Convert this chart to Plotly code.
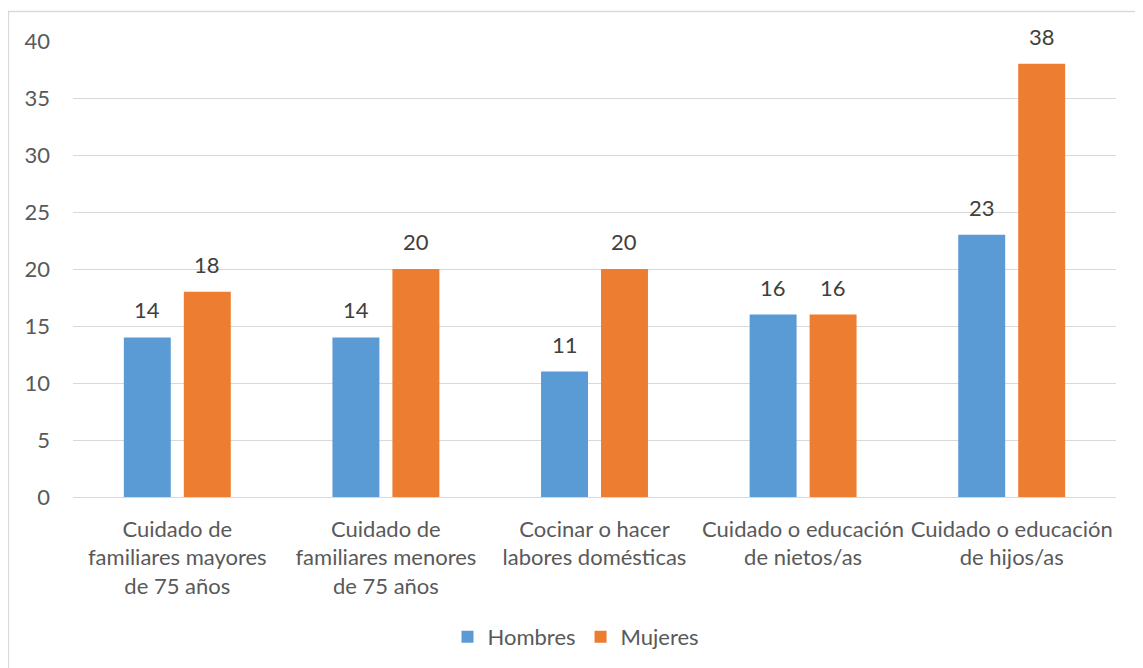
import plotly.graph_objects as go

categories = [
    "Cuidado de<br>familiares mayores<br>de 75 años",
    "Cuidado de<br>familiares menores<br>de 75 años",
    "Cocinar o hacer<br>labores domésticas",
    "Cuidado o educación<br>de nietos/as",
    "Cuidado o educación<br>de hijos/as",
]
hombres = [14, 14, 11, 16, 23]
mujeres = [18, 20, 20, 16, 38]
y_ticks = [0, 5, 10, 15, 20, 25, 30, 35, 40]

OFF = 8  # page body margin
W, H = 1143 - OFF, 668 - OFF
ML, MT = 73 - OFF, 41 - OFF
PW, PH = 1043, 456
MR, MB = W - ML - PW, H - MT - PH

FONT = "Lato"
BLUE = "#5B9BD5"
ORANGE = "#ED7D31"
TXT = "#595959"
GRID = "#D9D9D9"

fig = go.Figure()
fig.add_trace(go.Bar(name="Hombres", x=categories, y=hombres, marker_color=BLUE,
                     marker_line_width=0))
fig.add_trace(go.Bar(name="Mujeres", x=categories, y=mujeres, marker_color=ORANGE,
                     marker_line_width=0))

cat_px = PW / len(categories)
bargap = 0.425
bargroupgap = 0.217
slot = (1 - bargap) * cat_px / 2
annotations = []
for series, sign in ((hombres, -1), (mujeres, 1)):
    for c, v in zip(categories, series):
        annotations.append(dict(
            x=c, y=v, xref="x", yref="y", text=str(v), showarrow=False,
            xshift=sign * slot / 2, yshift=12, yanchor="bottom",
            font=dict(family=FONT, size=22, color="#404040")))

def px_x(p):
    return (p - OFF - ML) / PW

def px_y(p):
    return (MT + PH - (p - OFF)) / PH

fig.update_layout(
    width=W, height=H,
    margin=dict(l=ML, r=MR, t=MT, b=MB, autoexpand=False),
    paper_bgcolor="white", plot_bgcolor="white",
    barmode="group", bargap=bargap, bargroupgap=bargroupgap,
    font=dict(family=FONT, size=22, color=TXT),
    showlegend=True,
    legend=dict(orientation="h", x=px_x(576), xanchor="center",
                y=px_y(637), yanchor="middle",
                font=dict(family=FONT, size=22, color=TXT),
                itemwidth=30, traceorder="normal"),
    annotations=annotations,
    shapes=[dict(type="rect", xref="paper", yref="paper",
                 x0=px_x(8.5), x1=px_x(1160), y0=px_y(690), y1=px_y(11.5),
                 line=dict(color=GRID, width=1.3), layer="below")],
    xaxis=dict(showgrid=False, showline=True, linecolor=GRID, linewidth=1.3,
               ticks="", tickfont=dict(family=FONT, size=22, color=TXT),
               ticklabelstandoff=12),
    yaxis=dict(range=[0, 40], tickvals=y_ticks, showgrid=True, gridcolor=GRID,
               gridwidth=1.3, zeroline=False, showline=False, ticks="",
               tickfont=dict(family=FONT, size=22, color=TXT),
               ticklabelstandoff=22),
)

fig.write_html("out.html")
